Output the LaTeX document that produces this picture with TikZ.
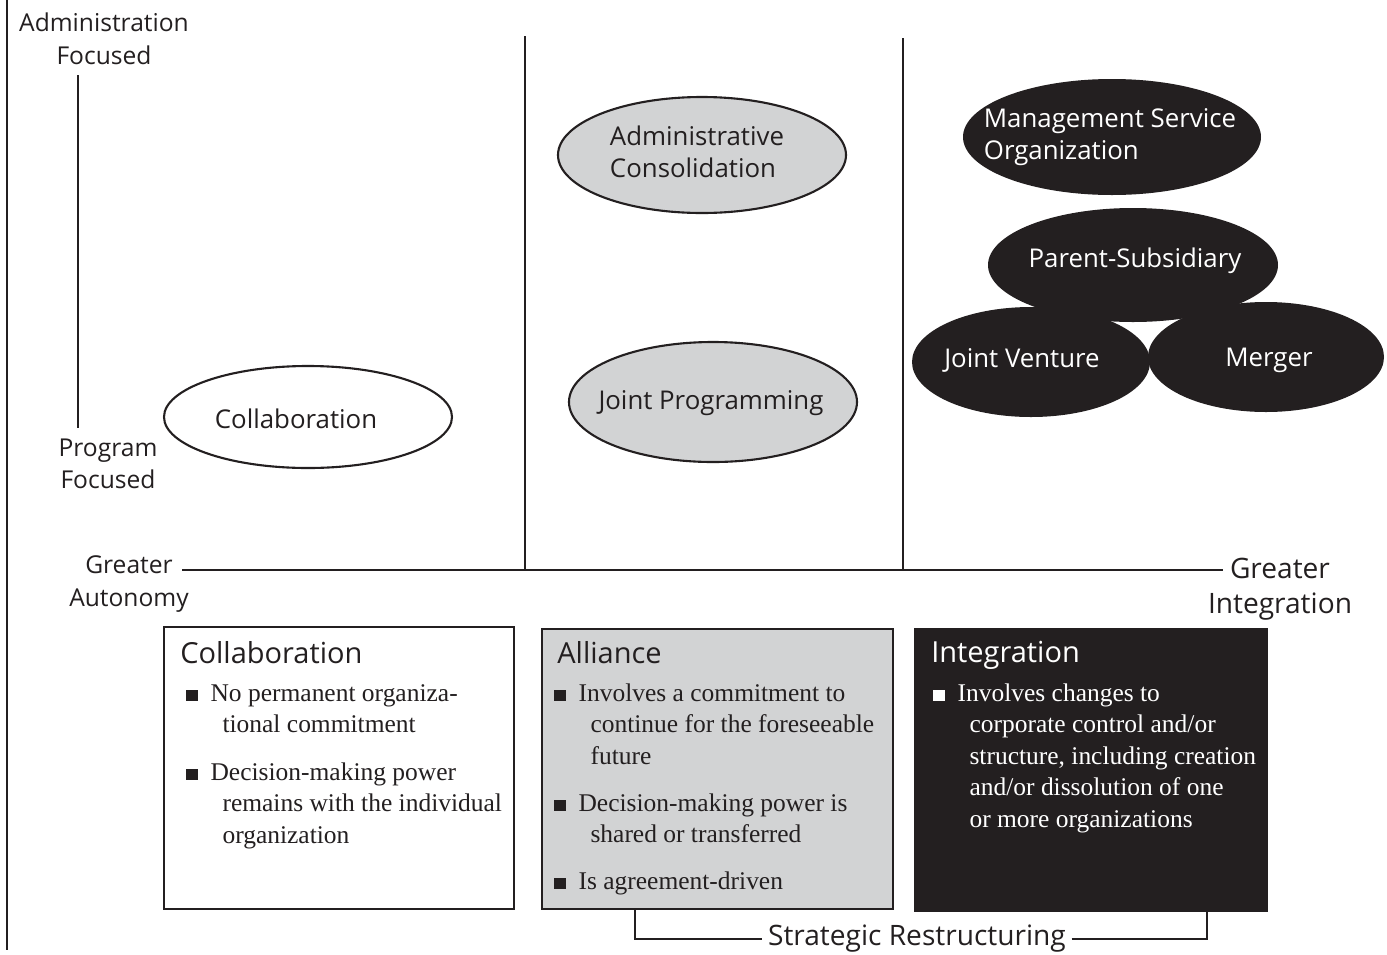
\documentclass[tikz,border=0pt]{standalone}
\usepackage{fontspec}
\setmainfont{Liberation Serif}
\setsansfont{Open Sans}
\usetikzlibrary{positioning, calc}

\definecolor{ink}{RGB}{35,31,32}
\definecolor{midgray}{RGB}{210,211,212}

% square bullet and hanging indent for the lists
\newcommand{\bsq}[1][ink]{\strut{\color{#1}\rule{6.4pt}{6.4pt}}\hspace{7.4pt}}
\newcommand{\bind}{\hspace*{20.6pt}}

\tikzset{
  axisline/.style={draw=ink, line width=1.2pt},
  axislabel/.style={font=\sffamily\fontsize{14}{18.5}\selectfont, text=ink, align=center, inner sep=0pt},
  ovaltext/.style={font=\sffamily\fontsize{14.7}{18.2}\selectfont, align=left, inner sep=0pt},
  boxtitle/.style={font=\sffamily\fontsize{16.5}{20}\selectfont, anchor=base west, inner sep=0pt},
  bulletline/.style={font=\fontsize{14.5}{17.9}\selectfont, align=left, anchor=north west, inner sep=0pt},
}

\begin{document}
\begin{tikzpicture}[x=0.02cm, y=-0.02cm]
  \useasboundingbox (0,0) rectangle (1387,954);

  % frame line on the left
  \draw[ink, line width=0.8pt] (7,0) -- (7,950);

  % vertical axis
  \node[axislabel] (admfoc) at (104,39) {Administration\\Focused};
  \node[axislabel] (progfoc) at (108,464) {Program\\Focused};
  \coordinate (vtop) at (78,75);
  \coordinate (vbot) at (78,428);
  \draw[axisline] (vtop) -- (vbot);

  % horizontal axis
  \node[axislabel] (autonomy) at (129,584) {Greater\\Autonomy};
  \node[axislabel, font=\sffamily\fontsize{16}{20}\selectfont] (integ) at (1280,589) {Greater\\Integration};
  \coordinate (hleft) at (182,570);
  \coordinate (hright) at (1223,570);
  \draw[axisline] (hleft) -- (hright);

  % column dividers
  \draw[axisline] (525,36) -- (525,570);
  \draw[axisline] (903,38) -- (903,570);

  % collaboration column
  \filldraw[fill=white, draw=ink, line width=1.2pt] (308,417) ellipse [x radius=144, y radius=51];
  \node[ovaltext, text=ink] (collab) at (296,419) {Collaboration};

  % alliance column
  \filldraw[fill=midgray, draw=ink, line width=1.2pt] (702,155) ellipse [x radius=144, y radius=58];
  \filldraw[fill=midgray, draw=ink, line width=1.2pt] (713,402) ellipse [x radius=144, y radius=60];
  \node[ovaltext, text=ink] (admcons) at (697,152) {Administrative\\Consolidation};
  \node[ovaltext, text=ink] (jointprog) at (711,403) {Joint Programming};

  % integration column
  \fill[ink] (1112,137) ellipse [x radius=149, y radius=58];
  \fill[ink] (1133,265) ellipse [x radius=145, y radius=57];
  \fill[ink] (1031,362) ellipse [x radius=119, y radius=55];
  \fill[ink] (1266,357) ellipse [x radius=118, y radius=55];
  \node[ovaltext, text=white] (mso) at (1110,137) {Management Service\\Organization};
  \node[ovaltext, text=white] (parsub) at (1135,261) {Parent-Subsidiary};
  \node[ovaltext, text=white] (jventure) at (1022,360) {Joint Venture};
  \node[ovaltext, text=white] (merger) at (1269,360) {Merger};

  % description boxes
  \filldraw[fill=white, draw=ink, line width=1.2pt] (164,627) rectangle (514,909);
  \filldraw[fill=midgray, draw=ink, line width=1.2pt] (542,629) rectangle (893,909);
  \fill[ink] (914,628) rectangle (1268,912);

  \node[boxtitle, text=ink] (t-collab) at (180,663) {Collaboration};
  \node[bulletline, text=ink] (c1) at (186,679) {\bsq No permanent organiza-\\\bind tional commitment};
  \node[bulletline, text=ink] (c2) at (186,758) {\bsq Decision-making power\\\bind remains with the individual\\\bind organization};

  \node[boxtitle, text=ink] (t-alliance) at (557,663) {Alliance};
  \node[bulletline, text=ink] (a1) at (554,679) {\bsq Involves a commitment to\\\bind continue for the foreseeable\\\bind future};
  \node[bulletline, text=ink] (a2) at (554,789) {\bsq Decision-making power is\\\bind shared or transferred};
  \node[bulletline, text=ink] (a3) at (554,867) {\bsq Is agreement-driven};

  \node[boxtitle, text=white] (t-integ) at (931,662) {Integration};
  \node[bulletline, text=white] (i1) at (933,679) {\bsq[white]Involves changes to\\\bind corporate control and/or\\\bind structure, including creation\\\bind and/or dissolution of one\\\bind or more organizations};

  % bracket under alliance and integration
  \node[axislabel, font=\sffamily\fontsize{16}{20}\selectfont, inner xsep=3pt] (strat) at (917,939) {Strategic Restructuring};
  \coordinate (bl) at (635,909);
  \coordinate (br) at (1207,912);
  \draw[axisline] (bl) |- (strat.west);
  \draw[axisline] (strat.east) -| (br);
\end{tikzpicture}
\end{document}
